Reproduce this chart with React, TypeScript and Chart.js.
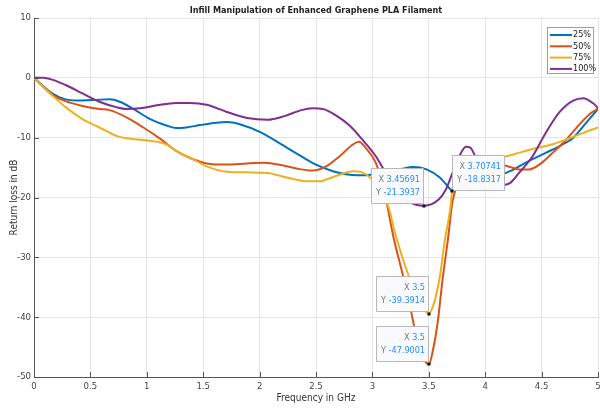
import React, { useEffect, useRef } from 'react';
import { Chart, registerables } from 'chart.js';

Chart.register(...registerables);

const chartTitle = 'Infill Manipulation of Enhanced Graphene PLA Filament';
const xAxisTitle = 'Frequency in GHz';
const yAxisTitle = 'Return loss in dB';
const seriesLabels = ['25%', '50%', '75%', '100%'];
const xTicks = [0, 0.5, 1, 1.5, 2, 2.5, 3, 3.5, 4, 4.5, 5];
const yTicks = [10, 0, -10, -20, -30, -40, -50];

const freq25 = [0, 0.16, 0.28, 0.43, 0.58, 0.67, 0.76, 0.88, 1.03, 1.18, 1.26, 1.35, 1.47, 1.62, 1.71, 1.83, 2.01, 2.21, 2.36, 2.5, 2.65, 2.8, 2.94, 3.06, 3.24, 3.36, 3.48, 3.6, 3.68, 3.707, 3.8, 3.95, 4.13, 4.22, 4.3, 4.42, 4.54, 4.66, 4.78, 4.9, 5.0];
const rl25 = [0, -2.6, -3.6, -3.8, -3.65, -3.6, -4.0, -5.2, -6.9, -8.0, -8.4, -8.3, -7.9, -7.5, -7.4, -7.8, -9.1, -11.3, -13.0, -14.5, -15.6, -16.2, -16.3, -15.9, -15.3, -14.9, -15.3, -16.7, -18.4, -18.83, -17.8, -17.0, -16.3, -15.6, -14.8, -13.6, -12.5, -11.4, -10.0, -7.4, -5.2];

const freq50 = [0, 0.16, 0.28, 0.43, 0.58, 0.67, 0.82, 0.97, 1.12, 1.26, 1.41, 1.53, 1.71, 1.89, 2.04, 2.22, 2.37, 2.47, 2.59, 2.71, 2.83, 2.88, 2.94, 3.03, 3.1, 3.19, 3.27, 3.35, 3.38, 3.44, 3.5, 3.54, 3.58, 3.62, 3.67, 3.71, 3.74, 3.8, 3.87, 3.95, 4.13, 4.22, 4.3, 4.39, 4.48, 4.6, 4.72, 4.84, 4.93, 5.0];
const rl50 = [0, -2.8, -3.9, -4.7, -5.2, -5.4, -6.6, -8.3, -10.2, -12.2, -13.6, -14.3, -14.5, -14.3, -14.2, -14.7, -15.3, -15.5, -14.8, -13.1, -11.1, -10.7, -11.7, -14.2, -18.5, -26.9, -33.0, -39.7, -42.4, -46.4, -47.9, -45.2, -40.7, -34.0, -26.9, -20.7, -18.5, -14.8, -13.8, -13.9, -14.5, -14.9, -15.3, -15.3, -14.5, -12.5, -10.3, -7.7, -6.0, -5.2];

const freq75 = [0, 0.16, 0.28, 0.43, 0.58, 0.73, 0.82, 0.97, 1.12, 1.18, 1.26, 1.41, 1.53, 1.71, 1.89, 2.07, 2.25, 2.43, 2.54, 2.59, 2.71, 2.83, 2.91, 3.0, 3.09, 3.15, 3.19, 3.26, 3.32, 3.41, 3.48, 3.5, 3.55, 3.6, 3.64, 3.69, 3.71, 3.76, 3.82, 3.9, 4.0, 4.13, 4.25, 4.42, 4.6, 4.72, 4.87, 5.0];
const rl75 = [0, -2.9, -4.9, -6.9, -8.3, -9.7, -10.1, -10.4, -10.8, -11.2, -12.2, -13.6, -14.8, -15.7, -15.8, -15.9, -16.7, -17.3, -17.3, -17.0, -16.2, -15.6, -15.8, -17.0, -19.3, -22.0, -25.2, -29.7, -33.0, -37.4, -39.2, -39.39, -37.4, -33.0, -27.4, -21.9, -18.5, -15.5, -14.3, -14.0, -13.7, -13.4, -12.8, -11.9, -11.1, -10.3, -9.2, -8.3];

const freq100 = [0, 0.08, 0.16, 0.28, 0.43, 0.58, 0.73, 0.82, 0.94, 1.09, 1.26, 1.38, 1.53, 1.71, 1.89, 2.07, 2.22, 2.37, 2.47, 2.56, 2.68, 2.8, 2.91, 3.03, 3.12, 3.2, 3.33, 3.457, 3.59, 3.65, 3.71, 3.77, 3.83, 3.87, 3.92, 4.0, 4.08, 4.15, 4.22, 4.3, 4.42, 4.54, 4.66, 4.78, 4.87, 4.96, 5.0];
const rl100 = [0, 0, -0.3, -1.2, -2.6, -4.0, -4.9, -5.2, -5.1, -4.6, -4.2, -4.2, -4.5, -5.7, -6.7, -7.0, -6.4, -5.4, -5.1, -5.2, -6.3, -8.0, -10.3, -13.1, -15.9, -18.0, -20.7, -21.39, -20.3, -18.7, -15.9, -13.1, -11.5, -11.7, -13.5, -16.5, -17.8, -17.9, -17.6, -15.9, -13.1, -9.1, -5.7, -3.8, -3.4, -4.3, -5.1];

const tipX = [3.45691, 3.70741, 3.5, 3.5];
const tipY = [-21.3937, -18.8317, -39.3914, -47.9001];

const seriesX = [freq25, freq50, freq75, freq100];
const seriesY = [rl25, rl50, rl75, rl100];
const colors = ['#0072BD', '#D95319', '#EDB120', '#7E2F8E'];
const NARROW = "'Liberation Sans Narrow', 'Arial Narrow', 'DejaVu Sans Condensed', 'Liberation Sans', sans-serif";

const overlayPlugin = {
  id: 'overlay',
  afterDraw(chart: any) {
    const ctx = chart.ctx;
    const { left, right, top, bottom } = chart.chartArea;
    const xs = chart.scales.x;
    const ys = chart.scales.y;
    ctx.save();
    // inward ticks
    ctx.strokeStyle = '#555';
    ctx.lineWidth = 1;
    ctx.beginPath();
    xTicks.forEach((v) => {
      const px = Math.round(xs.getPixelForValue(v)) + 0.5;
      ctx.moveTo(px, bottom);
      ctx.lineTo(px, bottom - 5);
    });
    yTicks.forEach((v) => {
      const py = Math.round(ys.getPixelForValue(v)) + 0.5;
      ctx.moveTo(left, py);
      ctx.lineTo(left + 5, py);
    });
    ctx.stroke();

    // title
    ctx.fillStyle = '#222';
    ctx.textAlign = 'center';
    ctx.textBaseline = 'middle';
    ctx.font = `bold 9px ${NARROW}`;
    ctx.fillText(chartTitle, (left + right) / 2, 11);

    // axis titles
    ctx.fillStyle = '#333';
    ctx.font = `10px ${NARROW}`;
    ctx.fillText(xAxisTitle, (left + right) / 2, 398);
    ctx.save();
    ctx.translate(14, (top + bottom) / 2);
    ctx.rotate(-Math.PI / 2);
    ctx.fillText(yAxisTitle, 0, 0);
    ctx.restore();

    // data tips
    ctx.font = `9px ${NARROW}`;
    tipX.forEach((xv, i) => {
      const px = xs.getPixelForValue(xv);
      const py = ys.getPixelForValue(tipY[i]);
      const l1v = String(xv);
      const l2v = String(tipY[i]);
      const w1 = ctx.measureText('X ' + l1v).width;
      const w2 = ctx.measureText('Y ' + l2v).width;
      const bw = Math.round(Math.max(w1, w2) + 8);
      const bh = 35;
      let bx: number;
      let by: number;
      if (i === 1) {
        bx = Math.round(px);
        by = Math.round(py - bh - 1);
      } else {
        bx = Math.round(px - bw - 1);
        by = Math.round(py - bh - 3);
      }
      ctx.fillStyle = '#fafafe';
      ctx.strokeStyle = '#b8b8b8';
      ctx.lineWidth = 1;
      ctx.beginPath();
      ctx.rect(bx + 0.5, by + 0.5, bw, bh);
      ctx.fill();
      ctx.stroke();
      const tx = bx + bw - 3;
      ctx.textAlign = 'right';
      ctx.textBaseline = 'middle';
      [[`X `, l1v, by + 12], [`Y `, l2v, by + 25]].forEach(([lab, val, yy]: any) => {
        ctx.fillStyle = '#1e90ff';
        ctx.fillText(val, tx, yy);
        const vw = ctx.measureText(val).width;
        ctx.fillStyle = '#777';
        ctx.fillText(lab, tx - vw, yy);
      });
      ctx.fillStyle = '#111';
      ctx.fillRect(Math.round(px) - 1.5, Math.round(py) - 1.5, 3, 3);
    });

    // legend
    const lx = 547, ly = 27, lw = 46, lh = 46;
    ctx.fillStyle = '#fff';
    ctx.strokeStyle = '#a0a0a0';
    ctx.lineWidth = 1;
    ctx.fillRect(lx, ly, lw, lh);
    ctx.strokeRect(lx + 0.5, ly + 0.5, lw, lh);
    ctx.font = `9px ${NARROW}`;
    ctx.textAlign = 'left';
    ctx.textBaseline = 'middle';
    seriesLabels.forEach((lab, i) => {
      const yy = ly + 8 + i * 11.3;
      ctx.strokeStyle = colors[i];
      ctx.lineWidth = 2;
      ctx.beginPath();
      ctx.moveTo(lx + 3, yy);
      ctx.lineTo(lx + 25, yy);
      ctx.stroke();
      ctx.fillStyle = '#222';
      ctx.fillText(lab, lx + 26, yy);
    });
    ctx.restore();
  },
};

export default function App() {
  const ref = useRef<HTMLCanvasElement>(null);
  useEffect(() => {
    if (!ref.current) return;
    const chart = new Chart(ref.current, {
      type: 'line',
      data: {
        datasets: seriesLabels.map((label, i) => ({
          label,
          data: seriesX[i].map((x, j) => ({ x, y: seriesY[i][j] })),
          borderColor: colors[i],
          backgroundColor: colors[i],
          borderWidth: 2,
          pointRadius: 0,
          fill: false,
          cubicInterpolationMode: 'monotone' as const,
          order: 3 - i,
        })),
      },
      options: {
        animation: false,
        responsive: false,
        maintainAspectRatio: false,
        layout: { padding: { top: 18, right: 2, left: 0, bottom: 0 } },
        plugins: {
          legend: { display: false },
          title: { display: false },
          tooltip: { enabled: false },
        },
        scales: {
          x: {
            type: 'linear',
            min: 0,
            max: 5,
            afterBuildTicks: (s: any) => {
              s.ticks = xTicks.map((v) => ({ value: v }));
            },
            afterFit: (s: any) => {
              s.height = 31;
              s.paddingLeft = 0;
              s.paddingRight = 0;
            },
            grid: { color: '#e4e4e4', drawTicks: false },
            border: { color: '#555', width: 1 },
            ticks: {
              padding: 4,
              color: '#444',
              font: { family: NARROW, size: 9.5 },
              maxRotation: 0,
              autoSkip: false,
              callback: (v: any) => String(v),
            },
          },
          y: {
            type: 'linear',
            min: -50,
            max: 10,
            afterBuildTicks: (s: any) => {
              s.ticks = yTicks.map((v) => ({ value: v }));
            },
            afterFit: (s: any) => {
              s.width = 34;
              s.paddingTop = 0;
              s.paddingBottom = 0;
            },
            grid: { color: '#e4e4e4', drawTicks: false },
            border: { color: '#555', width: 1 },
            ticks: {
              padding: 3,
              color: '#444',
              font: { family: NARROW, size: 9.5 },
              autoSkip: false,
              callback: (v: any) => String(v),
            },
          },
        },
      },
      plugins: [overlayPlugin],
    });
    return () => chart.destroy();
  }, []);
  return (
    <div style={{ position: 'fixed', left: 0, top: 0, width: 600, height: 408, background: '#fff' }}>
      <canvas ref={ref} width={600} height={408} style={{ width: 600, height: 408, display: 'block' }} />
    </div>
  );
}
